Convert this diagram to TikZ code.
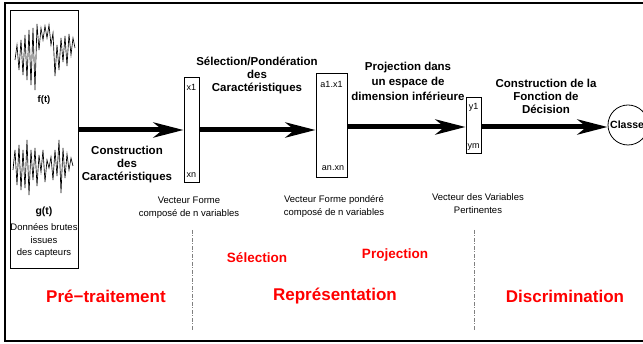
\documentclass[tikz,border=0pt]{standalone}
\usepackage{fontspec}
\setmainfont{Liberation Sans}
\usetikzlibrary{arrows.meta}
\tikzset{
  vbox/.style={draw, line width=0.8pt, inner sep=0pt},
  big arrow/.style={line width=5pt, -{Stealth[length=30pt,width=15pt,inset=9pt]}},
  steplbl/.style={font=\bfseries\fontsize{11.5}{13}\selectfont, align=center, inner sep=0pt},
  smalltxt/.style={font=\fontsize{9.5}{12.5}\selectfont, align=center, inner sep=0pt},
  boxtxt/.style={font=\fontsize{9}{10}\selectfont, inner sep=0pt},
  redbig/.style={font=\bfseries\fontsize{17}{19}\selectfont, text=red, inner sep=0pt},
  redsmall/.style={font=\bfseries\fontsize{13.5}{15}\selectfont, text=red, inner sep=0pt},
  sep/.style={draw=gray, line width=1pt, dash pattern=on 4pt off 1.5pt on 1pt off 1.5pt},
  signal/.style={line width=0.65pt, line join=miter}
}
\begin{document}
\begin{tikzpicture}[x=1pt,y=-1pt]
\useasboundingbox (0,0) rectangle (643,344);
\clip (0,0) rectangle (643,344);
% outer frame
\draw[line width=1.3pt] (5,3) rectangle (660,341);
% data box
\node[vbox, minimum width=68pt, minimum height=258pt] (data) at (44,139) {};
% signals
\draw[signal] (15,60) -- (17,45) -- (19,70) -- (21,40) -- (23,75) -- (25,35) -- (27,80) -- (29,30) -- (31,85) -- (33,28) -- (35,90) -- (37,24) -- (39,50) -- (41,28) -- (43,40) -- (45,26) -- (47,38) -- (49,25) -- (51,45) -- (53,33) -- (55,76) -- (57,45) -- (59,70) -- (61,38) -- (63,62) -- (65,36) -- (67,66) -- (69,34) -- (71,55) -- (73,38) -- (75,48);
\draw[signal] (13,170) -- (15,150) -- (17,185) -- (19,145) -- (21,190) -- (23,150) -- (25,188) -- (27,140) -- (29,195) -- (31,150) -- (33,180) -- (35,148) -- (37,186) -- (39,155) -- (41,172) -- (43,150) -- (45,182) -- (47,160) -- (49,168) -- (51,157) -- (53,180) -- (55,150) -- (57,176) -- (59,140) -- (61,193) -- (63,148) -- (65,178) -- (67,154) -- (69,170) -- (71,158) -- (73,166);
\node[font=\bfseries\fontsize{9.5}{11}\selectfont, inner sep=0pt] (ft) at (44,100) {f(t)};
\node[font=\bfseries\fontsize{10.5}{12}\selectfont, inner sep=0pt] (gt) at (44,212) {g(t)};
\node[smalltxt] (raw) at (44,240.5) {Données brutes\\issues\\des capteurs};
% vectors
\node[vbox, minimum width=15pt, minimum height=105pt] (b1) at (191.5,129.5) {};
\node[boxtxt] at (191.5,87) {x1};
\node[boxtxt] at (191.5,175) {xn};
\node[vbox, minimum width=31pt, minimum height=104pt] (b2) at (331.5,125) {};
\node[boxtxt] at (331.5,84) {a1.x1};
\node[boxtxt] at (333,168) {an.xn};
\node[vbox, minimum width=15pt, minimum height=56pt] (b3) at (473.5,125) {};
\node[boxtxt] at (473.5,107) {y1};
\node[boxtxt] at (473.5,147) {ym};
\node[draw, circle, line width=0.8pt, minimum size=40pt, inner sep=0pt] (cl) at (628,125) {};
\node[font=\bfseries\fontsize{10.5}{12}\selectfont, inner sep=0pt, anchor=west] at (610,125) {Classe};
% arrows
\draw[big arrow] (data.east |- 0,130) -- (b1.west |- 0,130);
\draw[big arrow] (b1.east |- 0,130) -- (b2.west |- 0,130);
\draw[big arrow] (b2.east |- 0,127) -- (b3.west |- 0,127);
\draw[big arrow] (b3.east |- 0,127) -- (cl.west |- 0,127);
% arrow labels
\node[steplbl] (l1) at (127,165) {Construction\\des\\Caractéristiques};
\node[steplbl] (l2) at (257,75) {Sélection/Pondération\\des\\Caractéristiques};
\node[steplbl, font=\bfseries\fontsize{11.5}{15}\selectfont] (l3) at (408,81) {Projection dans\\un espace de\\dimension inférieure};
\node[steplbl] (l4) at (546,96.5) {Construction de la\\Fonction de\\Décision};
% vector captions
\node[smalltxt] (c1) at (189,207.5) {Vecteur Forme\\composé de n variables};
\node[smalltxt] (c2) at (334,206.5) {Vecteur Forme pondéré\\composé de n variables};
\node[smalltxt] (c3) at (478,203.5) {Vecteur des Variables\\Pertinentes};
% separators
\draw[sep] (192,230) -- (192,331);
\draw[sep] (474,230) -- (474,331);
% red labels
\node[redsmall] at (257,258) {Sélection};
\node[redsmall] at (395,255) {Projection};
\node[redbig] at (106,296) {Pré−traitement};
\node[redbig] at (335,296) {Représentation};
\node[redbig] at (565,296) {Discrimination};
\end{tikzpicture}
\end{document}
